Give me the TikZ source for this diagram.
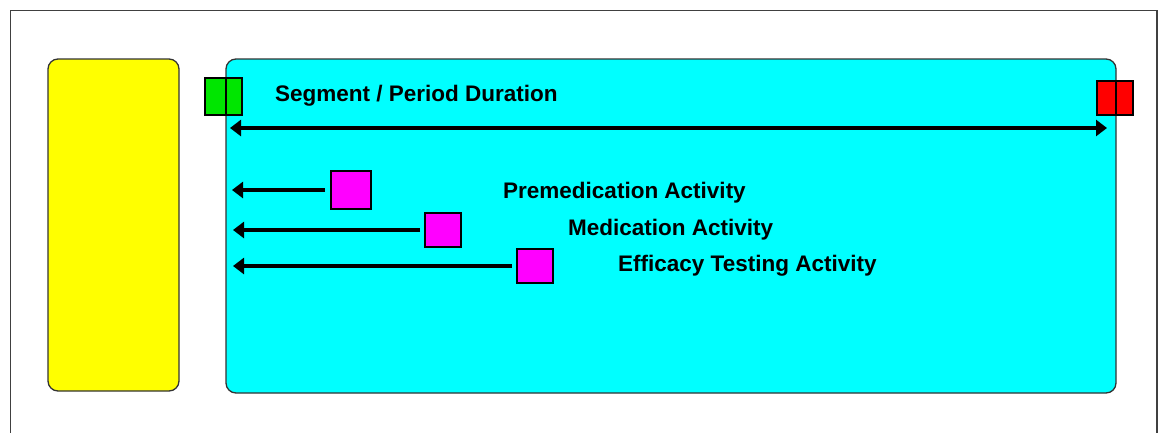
\documentclass[tikz,border=0pt]{standalone}
\usepackage{fontspec}
\setmainfont{Liberation Sans}
\usetikzlibrary{arrows.meta}

\definecolor{laneyellow}{RGB}{255,255,0}
\definecolor{segcyan}{RGB}{0,255,255}
\definecolor{startgreen}{RGB}{0,230,0}
\definecolor{endred}{RGB}{255,0,0}
\definecolor{actmagenta}{RGB}{255,0,255}

\tikzset{
    box/.style={draw=black!80, line width=1.3pt, rounded corners=10pt, inner sep=0pt, outer sep=0pt, anchor=north west},
    marker/.style={draw=black, line width=1.3pt, inner sep=0pt, outer sep=0pt},
    flow/.style={line width=3.2pt, -{Triangle[length=11pt,width=16pt]}},
    caption/.style={anchor=west, inner sep=0pt, font=\fontsize{22.5}{27}\selectfont\bfseries}
}

\begin{document}
\begin{tikzpicture}[x=1pt, y=-1pt]
            \useasboundingbox (0,0) rectangle (1160,432);
            \fill[white] (0,0) rectangle (1160,432);
            \draw[black!75, line width=1.3pt] (10.5,440) -- (10.5,10.5) -- (1157,10.5) -- (1157,440);

            \node[box, fill=laneyellow, minimum width=131pt, minimum height=332pt] (lane) at (48,59) {};
            \node[box, fill=segcyan, minimum width=890pt, minimum height=334pt] (segment) at (226,59) {};

            \node[marker, fill=startgreen, minimum width=37pt, minimum height=37pt] (start) at (223.5,96.5) {};
            \node[marker, fill=endred, minimum width=36pt, minimum height=34pt] (end) at (1115,98) {};
            \draw[line width=1.3pt] (segment.west |- start.north) -- (segment.west |- start.south);
            \draw[line width=1.3pt] (segment.east |- end.north) -- (segment.east |- end.south);

            \node[caption] (durText) at (275,96) {Segment / Period Duration};
            \coordinate (durL) at (230,128);
            \coordinate (durR) at (1107,128);
            \draw[flow, {Triangle[length=11pt,width=16pt]}-{Triangle[length=11pt,width=16pt]}] (durL) -- (durR);

            \node[marker, fill=actmagenta, minimum width=40pt, minimum height=38pt] (premed) at (351,190) {};
            \node[marker, fill=actmagenta, minimum width=36pt, minimum height=34pt] (med) at (443,230) {};
            \node[marker, fill=actmagenta, minimum width=36pt, minimum height=34pt] (efficacy) at (535,266) {};

            \draw[flow, shorten <=6pt] (premed.west) -- ([xshift=6pt]segment.west |- premed.west);
            \draw[flow, shorten <=5pt] (med.west) -- ([xshift=7pt]segment.west |- med.west);
            \draw[flow, shorten <=5pt] (efficacy.west) -- ([xshift=7pt]segment.west |- efficacy.west);

            \node[caption] (premedText) at (503,193) {Premedication Activity};
            \node[caption] (medText) at (568,230) {Medication Activity};
            \node[caption] (efficacyText) at (618,266) {Efficacy Testing Activity};
        \end{tikzpicture}
\end{document}
